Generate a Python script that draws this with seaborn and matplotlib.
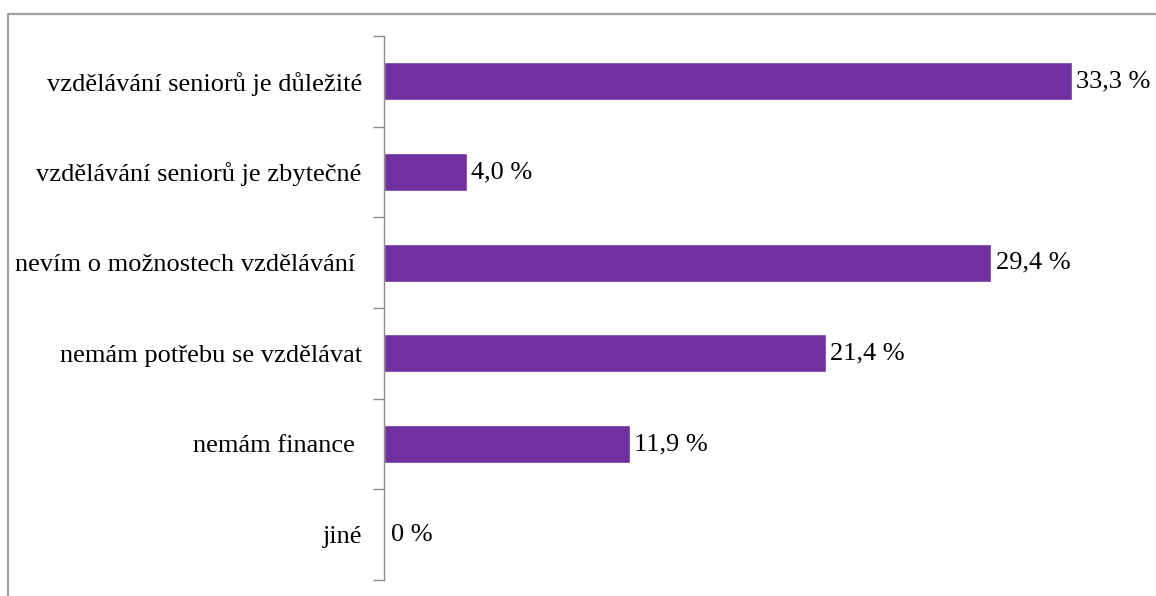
import matplotlib
matplotlib.use("Agg")
import matplotlib.pyplot as plt
from matplotlib.lines import Line2D
import seaborn as sns
import pandas as pd

categories = [
    "vzdělávání seniorů je důležité",
    "vzdělávání seniorů je zbytečné",
    "nevím o možnostech vzdělávání ",
    "nemám potřebu se vzdělávat",
    "nemám finance ",
    "jiné",
]
values = [33.3, 4.0, 29.4, 21.4, 11.9, 0.0]

df = pd.DataFrame({"category": categories, "value": values})

sns.set_theme(style="white")
plt.rcParams["font.family"] = ["Liberation Serif", "DejaVu Serif"]

FS = 19

fig = plt.figure(figsize=(11.56, 5.96), dpi=100)
ax = fig.add_axes([384 / 1156, 1 - 580 / 596, 772 / 1156, 544 / 596])

sns.barplot(data=df, x="value", y="category", orient="h",
            color="#7030A0", saturation=1, width=0.42, ax=ax)

ax.set_xlim(0, 772 / 20.66)
ax.set_ylim(len(categories) - 0.5, -0.5)
ax.set_xlabel("")
ax.set_ylabel("")
ax.xaxis.set_visible(False)

# category labels at bar centers, tick marks at category boundaries
ax.set_yticks([i - 0.5 for i in range(len(categories) + 1)])
ax.set_yticklabels([])
ax.set_yticks(list(range(len(categories))), minor=True)
ax.set_yticklabels(categories, minor=True)
ax.tick_params(axis="y", which="minor", length=0, pad=16,
               labelsize=FS, labelcolor="black")
ax.tick_params(axis="y", which="major", length=8, width=1, color="#8c8c8c",
               direction="out", left=True)

for side in ["top", "right", "bottom"]:
    ax.spines[side].set_visible(False)
ax.spines["left"].set_color("#8c8c8c")
ax.spines["left"].set_linewidth(1)

for i, v in enumerate(values):
    txt = "0 %" if v == 0 else f"{v:.1f}".replace(".", ",") + " %"
    ax.annotate(txt, xy=(v, i), xytext=(3 if v else 5, 0),
                textcoords="offset points", va="center", ha="left",
                fontsize=FS, color="black")

# outer chart-area frame (top and left edges)
fig.add_artist(Line2D([8 / 1156, 1], [1 - 14 / 596, 1 - 14 / 596],
                      transform=fig.transFigure, color="#a0a0a0", lw=1.6))
fig.add_artist(Line2D([8 / 1156, 8 / 1156], [0, 1 - 14 / 596],
                      transform=fig.transFigure, color="#a0a0a0", lw=1.6))

fig.savefig("out.png", dpi=100)
